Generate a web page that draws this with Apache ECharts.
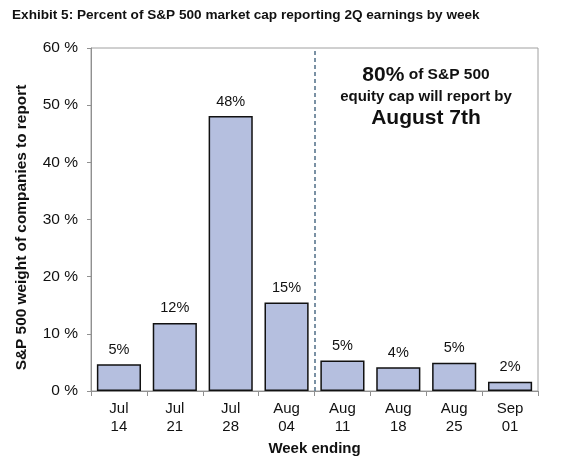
<!DOCTYPE html>
<html><head><meta charset="utf-8">
<script src="https://cdn.jsdelivr.net/npm/echarts@6/dist/echarts.min.js"></script>
<style>html,body{margin:0;padding:0;background:#fff}#c{width:566px;height:467px}</style>
</head><body><div id="c"></div>
<script>
var categories = ['Jul\n14','Jul\n21','Jul\n28','Aug\n04','Aug\n11','Aug\n18','Aug\n25','Sep\n01'];
var values = [4.7, 11.9, 48.1, 15.5, 5.35, 4.15, 4.95, 1.6];
var barLabels = ['5%','12%','48%','15%','5%','4%','5%','2%'];
var yTicks = [0, 10, 20, 30, 40, 50, 60];
var dividerPosition = 4; // boundary between Aug 04 and Aug 11 (in category units)

var font = 'Liberation Sans, Arial, sans-serif';
var chart = echarts.init(document.getElementById('c'), null, {renderer:'canvas'});
chart.setOption({
  animation: false,
  title: {
    text: 'Exhibit 5: Percent of S&P 500 market cap reporting 2Q earnings by week',
    left: 7, top: 3,
    textStyle: {fontFamily: font, fontSize: 13.6, fontWeight: 'bold', color: '#111'}
  },
  grid: {left: 91, right: 28, top: 48, bottom: 76, show: true, borderColor: '#a0a0a0', borderWidth: 1, backgroundColor: 'transparent'},
  xAxis: [{
    type: 'category',
    data: categories,
    name: 'Week ending',
    nameLocation: 'middle',
    nameGap: 46,
    nameTextStyle: {fontFamily: font, fontSize: 15, fontWeight: 'bold', color: '#111'},
    axisLine: {lineStyle: {color: '#909090', width: 1}},
    axisTick: {show: true, alignWithLabel: false, length: 5, lineStyle: {color: '#909090'}},
    axisLabel: {fontFamily: font, fontSize: 15, color: '#111', lineHeight: 18, margin: 9}
  }, {
    type: 'value', min: 0, max: categories.length, show: false
  }],
  yAxis: {
    type: 'value',
    min: 0, max: 60, interval: 10,
    name: 'S&P 500 weight of companies to report',
    nameLocation: 'middle',
    nameGap: 62,
    nameTextStyle: {fontFamily: font, fontSize: 15.4, fontWeight: 'bold', color: '#111', padding: [0, 16, 0, 0]},
    axisLine: {show: true, lineStyle: {color: '#909090', width: 1}},
    axisTick: {show: true, length: 4, lineStyle: {color: '#909090'}},
    splitLine: {show: false},
    axisLabel: {fontFamily: font, fontSize: 15.5, color: '#111', margin: 13,
      formatter: function (v) { return yTicks.indexOf(v) >= 0 ? v + ' %' : ''; }}
  },
  series: [{
    type: 'bar',
    data: values,
    barCategoryGap: '21%',
    itemStyle: {color: '#b5bfdf', borderColor: '#111', borderWidth: 1.5},
    label: {show: true, position: 'top', distance: 7, fontFamily: font, fontSize: 14.5, color: '#111',
      formatter: function (p) { return barLabels[p.dataIndex]; }}
  }, {
    type: 'scatter',
    xAxisIndex: 1,
    data: [],
    markLine: {
      silent: true, symbol: ['none','none'],
      label: {show: false},
      lineStyle: {type: [4, 3], color: '#4f6e86', width: 1.5},
      data: [{xAxis: dividerPosition}]
    }
  }],
  graphic: [{
    type: 'text',
    x: 426, y: 64,
    style: {
      text: '{big|80%}{mid| of S&P 500}\n{mid2|equity cap will report by}\n{big|August 7th}',
      align: 'center',
      verticalAlign: 'top',
      fontFamily: font,
      rich: {
        big: {fontFamily: font, fontSize: 21, fontWeight: 'bold', fill: '#111', lineHeight: 22},
        mid: {fontFamily: font, fontSize: 15.5, fontWeight: 'bold', fill: '#111', lineHeight: 22},
        mid2: {fontFamily: font, fontSize: 15, fontWeight: 'bold', fill: '#111', lineHeight: 21}
      }
    }
  }]
});
</script></body></html>
